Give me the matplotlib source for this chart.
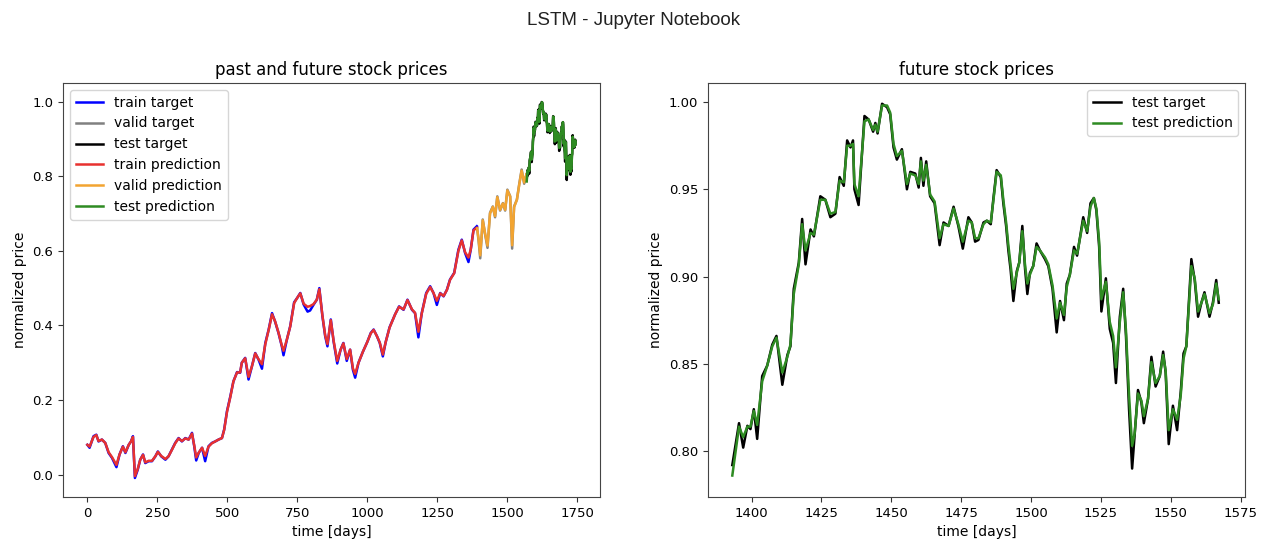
import matplotlib
matplotlib.use("Agg")
import matplotlib.pyplot as plt
import numpy as np

# ---------------- data ----------------
# training period (day index, normalized price)
train_days = [0, 8, 22, 32, 40, 52, 64, 76, 88, 104, 115, 127, 136, 148, 156, 163,
              170, 180, 189, 199, 207, 219, 231, 243, 252, 264, 279, 290, 302, 314,
              326, 338, 350, 362, 374, 382, 389, 398, 410, 421, 433, 445, 457, 469,
              481, 489, 499, 511, 522, 535, 546, 552, 564, 576, 588, 600, 612, 624,
              636, 648, 660, 671, 683, 695, 701, 713, 725, 739, 751, 761, 773, 787,
              796, 808, 820, 829, 840, 850, 858, 870, 880, 893, 905, 915, 927, 939,
              949, 957, 969, 985, 1000, 1013, 1023, 1035, 1045, 1056, 1066, 1080,
              1100, 1114, 1130, 1144, 1160, 1171, 1183, 1195, 1211, 1225, 1237, 1249,
              1261, 1273, 1285, 1296, 1311, 1326, 1338, 1350, 1362, 1370, 1380, 1392]
train_target = [0.080, 0.072, 0.103, 0.107, 0.089, 0.094, 0.085, 0.058, 0.045, 0.020,
                0.054, 0.076, 0.058, 0.080, 0.089, 0.103, -0.009, 0.013, 0.040, 0.054,
                0.031, 0.036, 0.036, 0.049, 0.062, 0.049, 0.040, 0.049, 0.067, 0.085,
                0.098, 0.089, 0.098, 0.094, 0.112, 0.076, 0.038, 0.058, 0.072, 0.036,
                0.076, 0.085, 0.089, 0.094, 0.098, 0.121, 0.170, 0.210, 0.250, 0.275,
                0.273, 0.300, 0.313, 0.255, 0.290, 0.326, 0.308, 0.284, 0.353, 0.389,
                0.433, 0.410, 0.380, 0.344, 0.320, 0.362, 0.398, 0.462, 0.475, 0.487,
                0.456, 0.437, 0.440, 0.455, 0.469, 0.500, 0.425, 0.371, 0.344, 0.416,
                0.357, 0.298, 0.335, 0.353, 0.305, 0.335, 0.281, 0.260, 0.300, 0.330,
                0.355, 0.380, 0.389, 0.371, 0.353, 0.317, 0.355, 0.395, 0.430, 0.451,
                0.442, 0.469, 0.442, 0.433, 0.368, 0.433, 0.487, 0.505, 0.487, 0.455,
                0.487, 0.478, 0.496, 0.523, 0.541, 0.603, 0.630, 0.594, 0.570, 0.603,
                0.657, 0.666]
train_pred = [0.080, 0.075, 0.101, 0.106, 0.090, 0.094, 0.085, 0.060, 0.047, 0.026,
              0.054, 0.075, 0.060, 0.080, 0.089, 0.101, -0.004, 0.015, 0.040, 0.053,
              0.033, 0.037, 0.037, 0.049, 0.061, 0.050, 0.042, 0.049, 0.066, 0.084,
              0.097, 0.090, 0.097, 0.094, 0.110, 0.078, 0.046, 0.059, 0.072, 0.050,
              0.075, 0.084, 0.089, 0.094, 0.098, 0.120, 0.168, 0.208, 0.250, 0.274,
              0.274, 0.300, 0.312, 0.262, 0.290, 0.325, 0.309, 0.296, 0.350, 0.388,
              0.430, 0.411, 0.381, 0.346, 0.332, 0.362, 0.397, 0.460, 0.475, 0.486,
              0.458, 0.450, 0.452, 0.457, 0.469, 0.497, 0.427, 0.373, 0.350, 0.414,
              0.359, 0.305, 0.335, 0.352, 0.310, 0.335, 0.285, 0.270, 0.300, 0.330,
              0.355, 0.379, 0.388, 0.371, 0.354, 0.322, 0.355, 0.394, 0.430, 0.450,
              0.443, 0.468, 0.443, 0.434, 0.383, 0.432, 0.485, 0.503, 0.487, 0.466,
              0.486, 0.479, 0.495, 0.522, 0.540, 0.600, 0.628, 0.596, 0.582, 0.603,
              0.655, 0.662]

# validation period
valid_days = [1393, 1398, 1404, 1413, 1421, 1430, 1439, 1449, 1457, 1465, 1475,
              1485, 1493, 1501, 1511, 1518, 1525, 1535, 1544, 1552, 1561, 1569]
valid_target = [0.660, 0.628, 0.580, 0.684, 0.646, 0.608, 0.702, 0.719, 0.690, 0.746,
                0.708, 0.728, 0.708, 0.764, 0.746, 0.606, 0.719, 0.737, 0.782, 0.818,
                0.780, 0.805]
valid_pred = [0.660, 0.632, 0.588, 0.682, 0.648, 0.614, 0.700, 0.718, 0.693, 0.744,
              0.710, 0.727, 0.710, 0.762, 0.746, 0.615, 0.717, 0.737, 0.780, 0.815,
              0.783, 0.805]

# test period (days as indexed in the zoomed view)
test_days = [1393.1, 1395.5, 1397.0, 1398.5, 1399.6, 1400.8, 1402.0, 1403.8, 1405.6,
             1407.4, 1408.9, 1411.0, 1412.8, 1413.9, 1415.1, 1416.9, 1418.1, 1419.3,
             1421.1, 1422.3, 1424.6, 1426.4, 1428.2, 1430.0, 1431.5, 1433.0, 1434.2,
             1435.4, 1436.3, 1436.8, 1438.3, 1440.4, 1441.9, 1443.5, 1444.3, 1445.1,
             1446.7, 1448.5, 1449.6, 1450.8, 1452.0, 1453.8, 1455.6, 1456.8, 1458.6,
             1459.8, 1460.6, 1461.5, 1462.5, 1463.9, 1465.5, 1467.3, 1468.7, 1470.5,
             1472.3, 1474.0, 1475.6, 1477.6, 1478.8, 1480.0, 1481.2, 1483.0, 1484.2,
             1485.6, 1486.5, 1487.7, 1489.2, 1490.1, 1491.1, 1491.9, 1492.7, 1493.7,
             1494.9, 1495.8, 1496.9, 1497.9, 1498.7, 1499.6, 1500.8, 1502.0, 1503.2,
             1505.0, 1506.2, 1507.7, 1509.2, 1510.4, 1511.8, 1512.8, 1513.9, 1515.4,
             1516.5, 1518.7, 1520.1, 1521.3, 1522.5, 1523.4, 1524.4, 1525.2, 1526.8,
             1528.2, 1529.4, 1530.4, 1531.8, 1533.0, 1534.0, 1535.1, 1536.2, 1537.1,
             1538.3, 1539.5, 1540.4, 1541.9, 1543.1, 1544.6, 1546.1, 1547.3, 1548.2,
             1549.3, 1550.8, 1552.3, 1553.6, 1554.6, 1555.6, 1557.4, 1558.6, 1559.8,
             1561.0, 1562.1, 1563.9, 1565.1, 1566.3, 1567.2]
test_target = [0.792, 0.816, 0.802, 0.8145, 0.8126, 0.824, 0.807, 0.843, 0.849,
               0.861, 0.866, 0.838, 0.855, 0.860, 0.893, 0.908, 0.933, 0.907,
               0.927, 0.923, 0.946, 0.944, 0.934, 0.936, 0.957, 0.952, 0.978,
               0.974, 0.978, 0.950, 0.941, 0.992, 0.990, 0.983, 0.988, 0.982,
               0.999, 0.997, 0.993, 0.974, 0.967, 0.973, 0.950, 0.960, 0.959,
               0.951, 0.968, 0.952, 0.966, 0.946, 0.942, 0.918, 0.931, 0.929,
               0.940, 0.929, 0.916, 0.934, 0.931, 0.920, 0.921, 0.931, 0.932,
               0.930, 0.944, 0.961, 0.957, 0.942, 0.929, 0.915, 0.904, 0.886,
               0.903, 0.908, 0.929, 0.904, 0.890, 0.902, 0.906, 0.919, 0.915,
               0.910, 0.906, 0.893, 0.868, 0.886, 0.875, 0.896, 0.901, 0.917,
               0.912, 0.934, 0.925, 0.942, 0.945, 0.938, 0.917, 0.880, 0.899,
               0.870, 0.862, 0.839, 0.877, 0.893, 0.866, 0.824, 0.790, 0.809,
               0.835, 0.828, 0.816, 0.830, 0.854, 0.837, 0.843, 0.857, 0.845,
               0.804, 0.826, 0.812, 0.834, 0.856, 0.860, 0.910, 0.898, 0.877,
               0.885, 0.891, 0.877, 0.885, 0.898, 0.885]
test_pred = [0.786, 0.814, 0.808, 0.814, 0.814, 0.823, 0.815, 0.840, 0.849,
             0.860, 0.865, 0.845, 0.854, 0.861, 0.890, 0.907, 0.930, 0.915,
             0.925, 0.924, 0.944, 0.944, 0.936, 0.937, 0.955, 0.954, 0.975,
             0.975, 0.976, 0.953, 0.946, 0.989, 0.990, 0.984, 0.987, 0.983,
             0.998, 0.998, 0.994, 0.976, 0.969, 0.972, 0.953, 0.959, 0.958,
             0.953, 0.966, 0.955, 0.964, 0.947, 0.943, 0.922, 0.930, 0.929,
             0.939, 0.930, 0.920, 0.932, 0.931, 0.922, 0.922, 0.930, 0.932,
             0.931, 0.943, 0.960, 0.958, 0.944, 0.931, 0.918, 0.907, 0.893,
             0.902, 0.908, 0.926, 0.906, 0.896, 0.901, 0.906, 0.917, 0.915,
             0.911, 0.907, 0.895, 0.876, 0.885, 0.878, 0.894, 0.901, 0.915,
             0.913, 0.932, 0.926, 0.940, 0.945, 0.939, 0.920, 0.887, 0.897,
             0.874, 0.866, 0.848, 0.874, 0.891, 0.869, 0.832, 0.803, 0.810,
             0.833, 0.829, 0.820, 0.830, 0.851, 0.839, 0.843, 0.855, 0.846,
             0.812, 0.824, 0.818, 0.832, 0.853, 0.860, 0.906, 0.899, 0.880,
             0.885, 0.890, 0.879, 0.884, 0.896, 0.887]

# the test series sits right after the validation block in the overview plot
valid_len = 177

left_xticks = [0, 250, 500, 750, 1000, 1250, 1500, 1750]
left_yticks = [0.0, 0.2, 0.4, 0.6, 0.8, 1.0]
right_xticks = [1400, 1425, 1450, 1475, 1500, 1525, 1550, 1575]
right_yticks = [0.80, 0.85, 0.90, 0.95, 1.00]

# ---------------- figure ----------------
plt.rcParams["font.family"] = ["DejaVu Sans"]
W, H = 1267, 549
fig = plt.figure(figsize=(W / 100, H / 100), dpi=100)
fig.patch.set_facecolor("white")

fig.text(0.5, 0.963, "LSTM - Jupyter Notebook", ha="center", va="center",
         fontsize=13.5, family=["Liberation Sans", "DejaVu Sans"], color="#222222")

ax1 = fig.add_axes([63 / W, 52 / H, 537 / W, 414 / H])
ax2 = fig.add_axes([708 / W, 52 / H, 537 / W, 414 / H])

lw = 1.8
test_days_arr = np.array(test_days)

ax1.plot(train_days, train_target, color="blue", lw=lw, label="train target")
ax1.plot(valid_days, valid_target, color="gray", lw=lw, label="valid target")
ax1.plot(test_days_arr + valid_len, test_target, color="black", lw=lw, label="test target")
ax1.plot(train_days, train_pred, color="#e8312f", lw=lw, label="train prediction")
ax1.plot(valid_days, valid_pred, color="#f2a431", lw=lw, label="valid prediction")
ax1.plot(test_days_arr + valid_len, test_pred, color="#2e8b22", lw=lw, label="test prediction")
ax1.set_title("past and future stock prices", fontsize=12)
ax1.set_xlabel("time [days]", fontsize=10)
ax1.set_ylabel("normalized price", fontsize=10)
ax1.set_xticks(left_xticks)
ax1.set_yticks(left_yticks)
ax1.legend(loc="upper left", fontsize=10)

ax2.plot(test_days, test_target, color="black", lw=lw, label="test target")
ax2.plot(test_days, test_pred, color="#2e8b22", lw=lw, label="test prediction")
ax2.set_title("future stock prices", fontsize=12)
ax2.set_xlabel("time [days]", fontsize=10)
ax2.set_ylabel("normalized price", fontsize=10)
ax2.set_xticks(right_xticks)
ax2.set_yticks(right_yticks)
ax2.legend(loc="upper right", fontsize=10)

for ax in (ax1, ax2):
    ax.tick_params(labelsize=9.5, color="#333333")
    for sp in ax.spines.values():
        sp.set_color("#444444")

ax1.set_xlim(-87, 1832)
ax1.set_ylim(-0.06, 1.05)
ax2.set_xlim(1384.4, 1576.6)
ax2.set_ylim(0.7737, 1.0109)

fig.savefig("out.png", dpi=100)
